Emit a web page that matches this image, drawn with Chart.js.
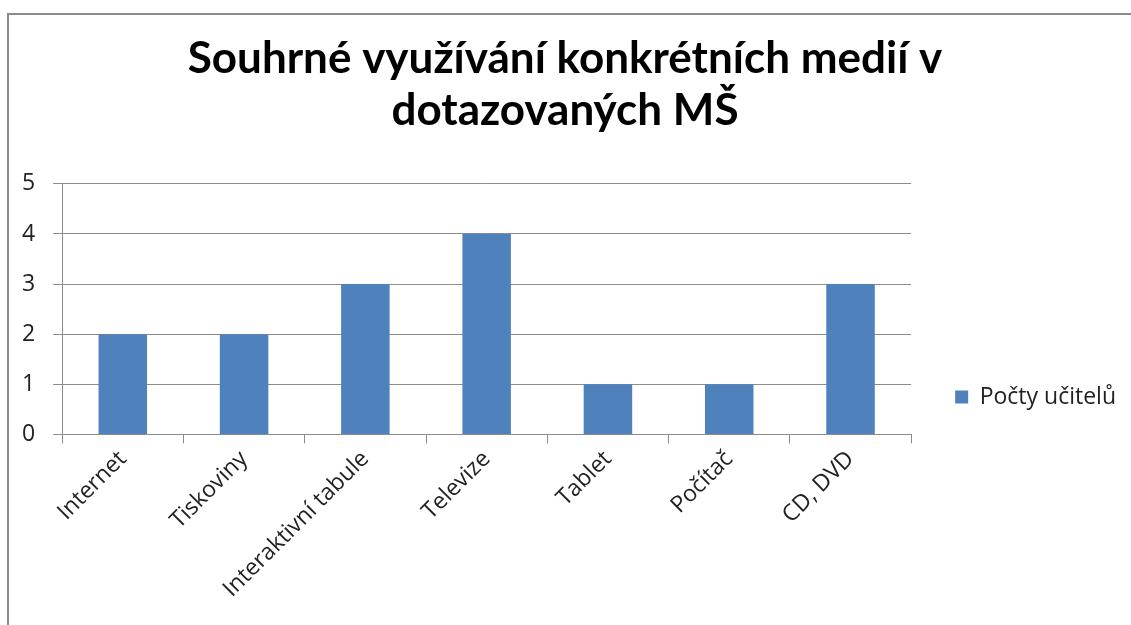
<!DOCTYPE html>
<html>
<head>
<meta charset="utf-8">
<script src="https://cdn.jsdelivr.net/npm/chart.js@4.4.1/dist/chart.umd.min.js"></script>
<style>
  html, body { margin: 0; padding: 0; background: #fff; }
  #wrap { position: relative; width: 1131px; height: 625px; overflow: hidden; }
  #frame { position: absolute; left: 7px; top: 13px; width: 1140px; height: 640px; border-left: 2px solid #8c8c8c; border-top: 2px solid #8c8c8c; }
  canvas { position: absolute; left: 0; top: 0; }
</style>
</head>
<body>
<div id="wrap">
  <div id="frame"></div>
  <canvas id="c" width="1131" height="625"></canvas>
</div>
<script>
const categories = ["Internet", "Tiskoviny", "Interaktivní tabule", "Televize", "Tablet", "Počítač", "CD, DVD"];
const seriesName = "Počty učitelů";
const values = [2, 2, 3, 4, 1, 1, 3];
const titleLines = ["Souhrné využívání konkrétních medií v", "dotazovaných MŠ"];
const yTicks = [0, 1, 2, 3, 4, 5];

const TITLE_FONT = "Lato, 'Open Sans', sans-serif";
const FONT = "'Open Sans', Lato, sans-serif";
const gridColor = "#8c8c8c";

new Chart(document.getElementById("c"), {
  type: "bar",
  data: {
    labels: categories,
    datasets: [{
      label: seriesName,
      data: values,
      backgroundColor: "#4f81bd",
      borderWidth: 0,
      categoryPercentage: 1.0,
      barPercentage: 0.4
    }]
  },
  options: {
    responsive: false,
    animation: false,
    devicePixelRatio: 1,
    layout: { padding: { left: 4, right: 5, top: 0, bottom: 20 } },
    plugins: {
      title: {
        display: true,
        text: titleLines,
        color: "#000",
        font: { family: TITLE_FONT, size: 44, weight: "bold", lineHeight: 1.18 },
        padding: { top: 33, bottom: 47 }
      },
      legend: {
        display: true,
        position: "right",
        align: "center",
        title: { display: true, text: " ", font: { size: 10, lineHeight: 1 }, padding: { top: 0, bottom: 179 } },
        labels: {
          color: "#222",
          font: { family: FONT, size: 23 },
          boxWidth: 13,
          boxHeight: 13,
          padding: 44
        }
      },
      tooltip: { enabled: false }
    },
    scales: {
      x: {
        grid: { display: true, drawOnChartArea: false, drawTicks: true, tickLength: 9, color: gridColor, offset: true },
        border: { display: true, color: gridColor, width: 1 },
        ticks: { color: "#222", font: { family: FONT, size: 23 }, maxRotation: 45, minRotation: 45, padding: 2 }
      },
      y: {
        min: 0,
        max: 5,
        afterBuildTicks: (axis) => { axis.ticks = yTicks.map(v => ({ value: v })); },
        grid: { color: gridColor, tickLength: 9, drawTicks: true },
        border: { display: true, color: gridColor, width: 1 },
        ticks: { color: "#222", font: { family: FONT, size: 23 }, padding: 18 }
      }
    }
  }
});
</script>
</body>
</html>
